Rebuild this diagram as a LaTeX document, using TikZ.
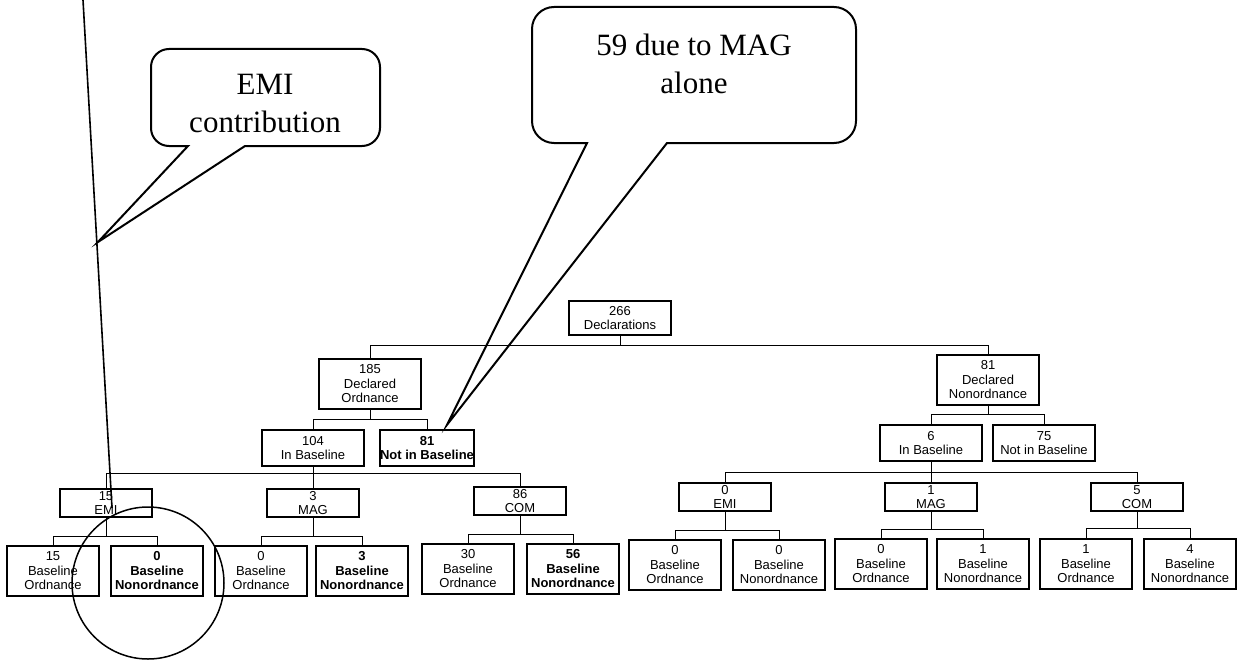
\documentclass[tikz,border=0pt]{standalone}
\usepackage{fontspec}
\setmainfont{Liberation Sans}
\newfontfamily\calloutfont{Liberation Serif}
\usetikzlibrary{calc}

\begin{document}
\begin{tikzpicture}[x=1pt, y=-1pt,
  every node/.style={font=\fontsize{13}{14.5}\selectfont, align=center, inner sep=0pt},
  box/.style={draw, line width=1.1pt, minimum width=92pt, minimum height=50pt},
  widebox/.style={box, minimum width=102pt},
  heavybox/.style={box, line width=2.4pt, font=\fontsize{13}{14.5}\selectfont\bfseries},
  link/.style={line width=1pt},
  balloon/.style={line width=2pt, line join=miter},
  bigtext/.style={font=\calloutfont\fontsize{31}{38}\selectfont}]
\useasboundingbox (0,0) rectangle (1241,666);

\node[widebox, minimum height=34pt] (decl) at (620,318) {266\\Declarations};

\node[widebox] (ord) at (370,384) {185\\Declared\\Ordnance};
\node[widebox] (nonord) at (988,380) {81\\Declared\\Nonordnance};

\node[widebox, minimum height=36pt] (inL) at (313,448) {104\\In Baseline};
\node[widebox, heavybox, minimum height=36pt] (notinL) at (427,448) {81\\Not in Baseline};
\node[widebox, minimum height=36pt] (inR) at (931,443) {6\\In Baseline};
\node[widebox, minimum height=36pt] (notinR) at (1044,443) {75\\Not in Baseline};

\node[box, minimum height=28pt] (emiL) at (106,503) {15\\EMI};
\node[box, minimum height=28pt] (magL) at (313,503) {3\\MAG};
\node[box, minimum height=28pt] (comL) at (520,501) {86\\COM};
\node[box, minimum height=28pt] (emiR) at (725,497) {0\\EMI};
\node[box, minimum height=28pt] (magR) at (931,497) {1\\MAG};
\node[box, minimum height=28pt] (comR) at (1137,497) {5\\COM};

\node[box] (emiLord) at (53,571) {15\\Baseline\\Ordnance};
\node[heavybox] (emiLnon) at (157,571) {0\\Baseline\\Nonordnance};
\node[box] (magLord) at (261,571) {0\\Baseline\\Ordnance};
\node[heavybox] (magLnon) at (362,571) {3\\Baseline\\Nonordnance};
\node[box] (comLord) at (468,569) {30\\Baseline\\Ordnance};
\node[heavybox] (comLnon) at (573,569) {56\\Baseline\\Nonordnance};
\node[box] (emiRord) at (675,565) {0\\Baseline\\Ordnance};
\node[box] (emiRnon) at (779,565) {0\\Baseline\\Nonordnance};
\node[box] (magRord) at (881,564) {0\\Baseline\\Ordnance};
\node[box] (magRnon) at (983,564) {1\\Baseline\\Nonordnance};
\node[box] (comRord) at (1086,564) {1\\Baseline\\Ordnance};
\node[box] (comRnon) at (1190,564) {4\\Baseline\\Nonordnance};

\draw[link] (decl.south) -- ++(0,10) coordinate (bar0);
\draw[link] (ord.north) |- (bar0) -| (nonord.north);

\draw[link] (ord.south) -- ++(0,10) coordinate (barL);
\draw[link] (inL.north) |- (barL) -| (notinL.north);
\draw[link] (nonord.south) -- ++(0,9) coordinate (barR);
\draw[link] (inR.north) |- (barR) -| (notinR.north);

\draw[link] (inL.south) -- (magL.north);
\draw[link] (emiL.north) |- ($(inL.south)+(0,7)$) -| (comL.north);
\draw[link] (inR.south) -- (magR.north);
\draw[link] (emiR.north) |- ($(inR.south)+(0,11)$) -| (comR.north);

\draw[link] (emiL.south) -- ++(0,19) coordinate (barA);
\draw[link] (emiLord.north) |- (barA) -| (emiLnon.north);
\draw[link] (magL.south) -- ++(0,19) coordinate (barB);
\draw[link] (magLord.north) |- (barB) -| (magLnon.north);
\draw[link] (comL.south) -- ++(0,19) coordinate (barC);
\draw[link] (comLord.north) |- (barC) -| (comLnon.north);
\draw[link] (emiR.south) -- ++(0,19) coordinate (barD);
\draw[link] (emiRord.north) |- (barD) -| (emiRnon.north);
\draw[link] (magR.south) -- ++(0,18) coordinate (barE);
\draw[link] (magRord.north) |- (barE) -| (magRnon.north);
\draw[link] (comR.south) -- ++(0,17) coordinate (barF);
\draw[link] (comRord.north) |- (barF) -| (comRnon.north);

\node[bigtext] (emitext) at (265,104) {EMI\\contribution};
\node[bigtext] (magtext) at (694,64) {59 due to MAG\\alone};

\coordinate (emitip) at (98,242);
\coordinate (magtip) at ($(notinL.north)+(20,-4)$);
\draw[balloon] (300,146) [rounded corners=18pt] -- (380,146) -- (380,49) -- (151,49) -- (151,146) [sharp corners] -- (188,146) -- (emitip) -- (245,146) -- cycle;
\draw[balloon] (760,143) [rounded corners=22pt] -- (856,143) -- (856,7) -- (532,7) -- (532,143) [sharp corners] -- (587,143) -- (magtip) -- (667,143) -- cycle;

\coordinate (pin) at (83,0);
\draw[line width=1.6pt] (pin) -- ($(emiL.center)+(6,5)$);

\draw[line width=1.5pt] (148,583) circle[radius=76pt];
\end{tikzpicture}
\end{document}
